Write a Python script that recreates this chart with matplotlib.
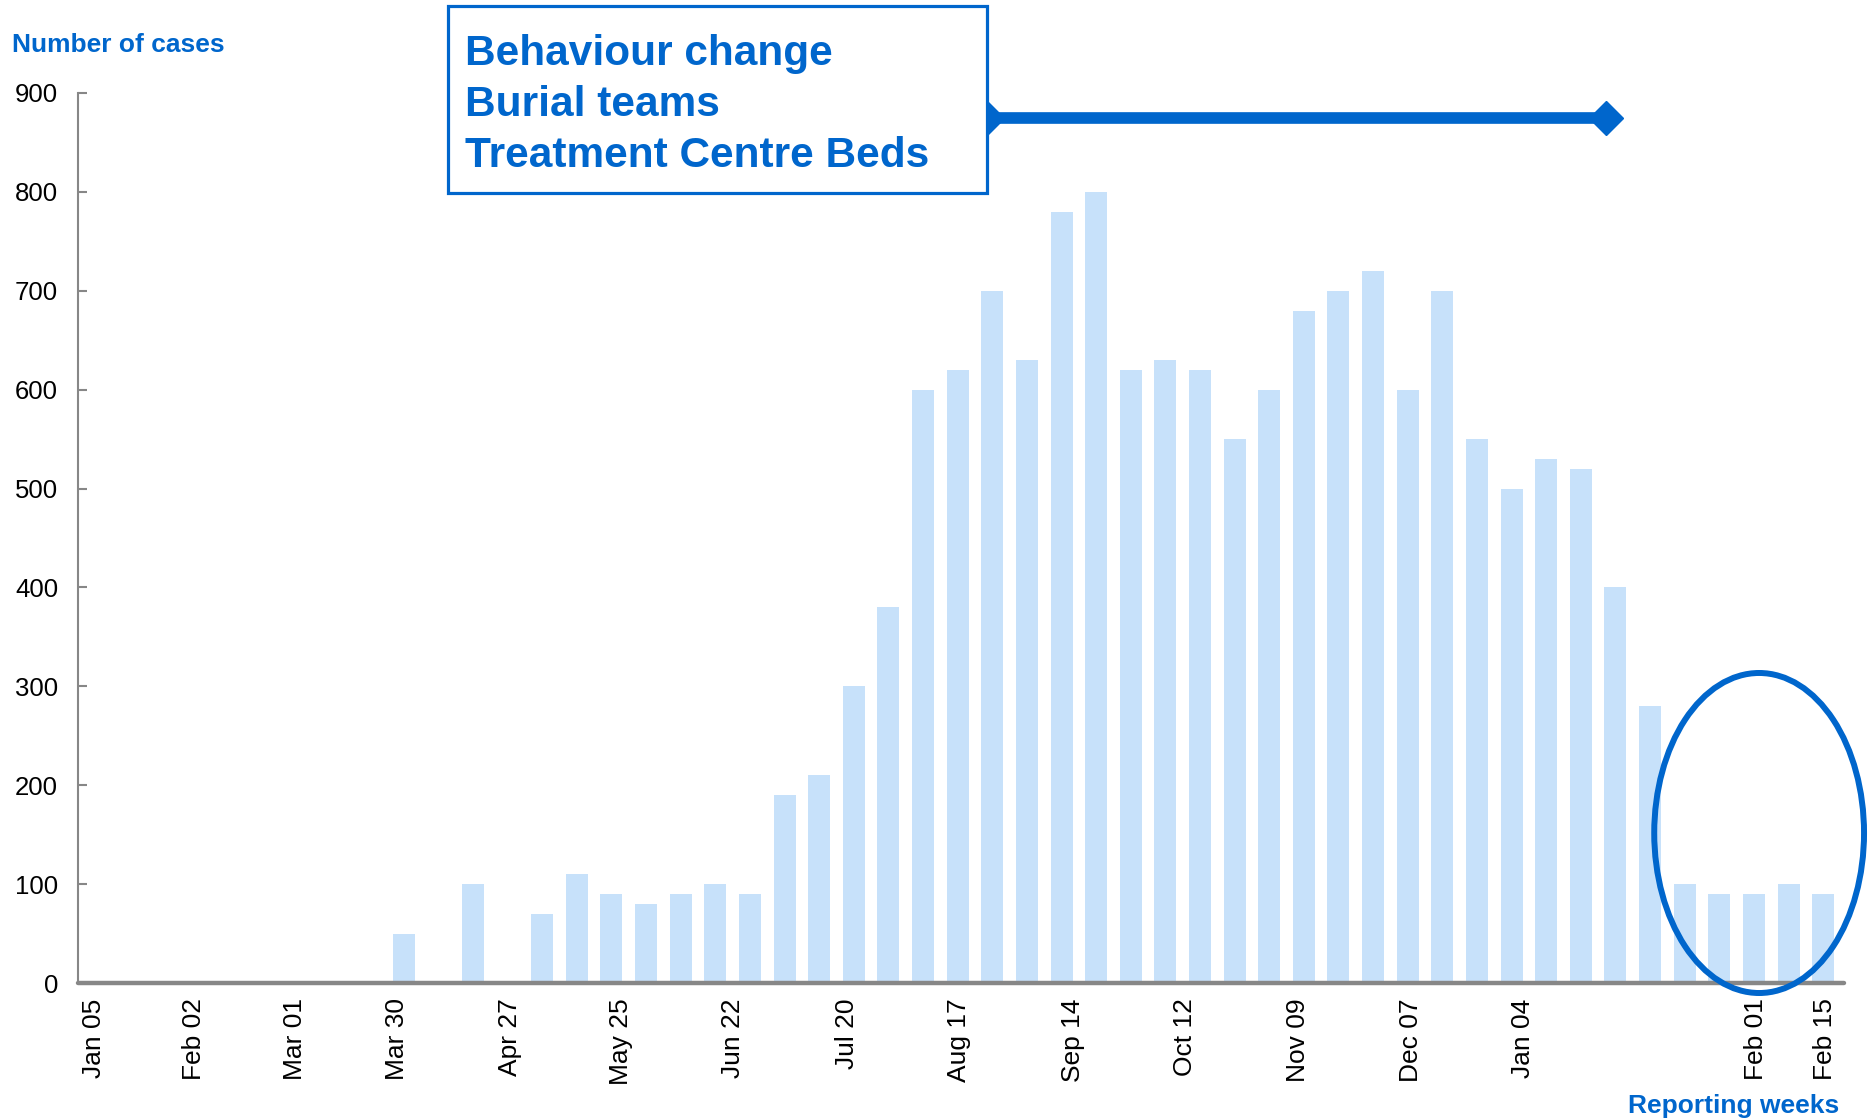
import matplotlib
import matplotlib.pyplot as plt
from matplotlib.patches import Rectangle, Ellipse

plt.switch_backend('agg')
plt.rcParams['font.family'] = ['Liberation Sans', 'DejaVu Sans']

# weekly case counts, one entry per reporting week (index 0 = Jan 05)
cases = [0, 0, 0, 0, 0, 0, 0, 0, 0, 50,
         0, 100, 0, 70, 110, 90, 80, 90, 100, 90,
         190, 210, 300, 380, 600, 620, 700, 630, 780, 800,
         620, 630, 620, 550, 600, 680, 700, 720, 600, 700,
         550, 500, 530, 520, 400, 280, 100, 90, 90, 100, 90]
weeks = list(range(len(cases)))

# tick labels and where they sit along the week axis
tick_labels = ['Jan 05', 'Feb 02', 'Mar 01', 'Mar 30', 'Apr 27', 'May 25',
               'Jun 22', 'Jul 20', 'Aug 17', 'Sep 14', 'Oct 12', 'Nov 09',
               'Dec 07', 'Jan 04', 'Feb 01', 'Feb 15']
tick_pos = [0.05, 2.95, 5.85, 8.8, 12.07, 15.27, 18.52, 21.8, 25.05, 28.33,
            31.57, 34.84, 38.1, 41.33, 48.07, 50.05]
y_ticks = [0, 100, 200, 300, 400, 500, 600, 700, 800, 900]

measures = ['Behaviour change', 'Burial teams', 'Treatment Centre Beds']

blue = '#0066CC'
bar_col = '#C7E1FA'
grey = '#878787'

fig = plt.figure(figsize=(18.69, 11.2), dpi=100)
ax = fig.add_axes([0.0415, 0.1223, 0.9451, 0.7947])

ax.bar(weeks, cases, width=0.635, color=bar_col, zorder=2)

ax.set_xlim(-0.42, 50.6)
ax.set_ylim(0, 900)
ax.set_yticks(y_ticks)
ax.set_xticks(tick_pos)
ax.set_xticklabels(tick_labels, rotation=90, fontsize=19)
ax.tick_params(axis='x', length=0, pad=11)
ax.tick_params(axis='y', direction='in', length=6.5, width=1.5, color=grey,
               labelsize=18.5, pad=14)

for s in ['top', 'right']:
    ax.spines[s].set_visible(False)
ax.spines['left'].set_color(grey)
ax.spines['left'].set_linewidth(1.5)
ax.spines['bottom'].set_color(grey)
ax.spines['bottom'].set_linewidth(3.2)
ax.spines['bottom'].set_capstyle('round')
ax.spines['bottom'].set_zorder(3)

fig.text(12 / 1869, 1 - 52 / 1120, 'Number of cases', color=blue,
         fontsize=19, fontweight='bold', va='baseline', ha='left')
fig.text(1839 / 1869, 1 - 1113 / 1120, 'Reporting weeks', color=blue,
         fontsize=19, fontweight='bold', va='baseline', ha='right')

# interventions box with the arrow running to the right
box_x0, box_x1 = 10.28, 25.84
box_y0, box_y1 = 798.8, 987.9
ax.plot([box_x1, 43.74], [874.6, 874.6], color=blue, lw=8.4,
        marker='D', ms=17, clip_on=False, zorder=5)
ax.add_patch(Rectangle((box_x0, box_y0), box_x1 - box_x0, box_y1 - box_y0,
                       facecolor='white', edgecolor=blue, lw=2.3,
                       clip_on=False, zorder=6))
for i, m in enumerate(measures):
    fig.text(465 / 1869, 1 - (65 + 51 * i) / 1120, m, color=blue,
             fontsize=30.5, fontweight='bold', va='baseline', ha='left',
             zorder=7)

# circle round the last weeks
ax.add_patch(Ellipse((48.15, 151.7), 6.06, 323.6, fill=False,
                     edgecolor=blue, lw=4.3, clip_on=False, zorder=6))

plt.savefig('out.png', dpi=100)
